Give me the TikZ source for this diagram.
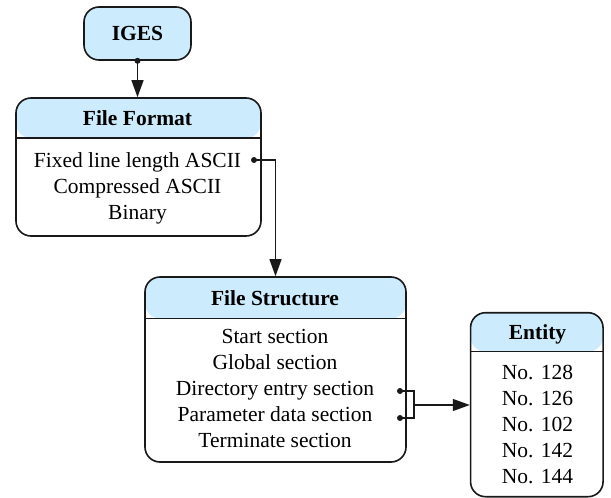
\documentclass[tikz,border=0pt]{standalone}
\usepackage{fontspec}
\setmainfont{Liberation Serif}
\newfontfamily\timesface{Liberation Serif}
\usetikzlibrary{arrows.meta}
\definecolor{hdrblue}{RGB}{204,235,252}
\definecolor{edge}{RGB}{25,25,25}
\begin{document}
\begin{tikzpicture}[x=1pt,y=-1pt,
  font=\timesface\fontsize{21.5}{26}\selectfont,
  frame/.style={draw=edge, line width=1.6pt, rounded corners=15pt, fill=white, inner sep=0pt},
  header/.style={path picture={
      \fill[hdrblue] (path picture bounding box.north west) rectangle ([yshift=-#1]path picture bounding box.north east);
      \draw[edge, line width=1.5pt] ([yshift=-#1]path picture bounding box.north west) -- ([yshift=-#1]path picture bounding box.north east);}},
  txt/.style={inner sep=0pt, anchor=base},
  ttl/.style={txt, font=\timesface\fontsize{21.5}{26}\selectfont\bfseries},
  link/.style={draw=edge, line width=1.2pt},
  arrow/.style={link, -{Triangle[length=17pt, width=12pt]}},
  dot/.style={fill=edge, circle, inner sep=0pt, minimum size=6pt}
]
\useasboundingbox (0,0) rectangle (611,498);

% boxes
\node[frame, fill=hdrblue, minimum width=107pt, minimum height=53pt] (iges) at (137.5,33.5) {};
\node[ttl] (igest) at (137.5,40) {IGES};

\node[frame, header=40pt, minimum width=245pt, minimum height=138pt] (ff) at (138.5,167) {};
\node[ttl] (fft) at (137.5,125) {File Format};
\node[txt] (ff1) at (137.5,167) {Fixed line length ASCII};
\node[txt] (ff2) at (137.5,193) {Compressed ASCII};
\node[txt] (ff3) at (137.5,219) {Binary};

\node[frame, header=41.5pt, minimum width=261pt, minimum height=185pt] (fs) at (275.5,369.5) {};
\node[ttl] (fst) at (275,305) {File Structure};
\node[txt] (fs1) at (275,343.5) {Start section};
\node[txt] (fs2) at (275,369.5) {Global section};
\node[txt] (fs3) at (275,395.5) {Directory entry section};
\node[txt] (fs4) at (275,421.5) {Parameter data section};
\node[txt] (fs5) at (275,447.5) {Terminate section};

\node[frame, header=39pt, minimum width=132.5pt, minimum height=184pt] (ent) at (536.8,404.7) {};
\node[ttl] (entt) at (537.5,339.3) {Entity};
\node[txt] (en1) at (537.5,379.3) {No. 128};
\node[txt] (en2) at (537.5,405.3) {No. 126};
\node[txt] (en3) at (537.5,431.3) {No. 102};
\node[txt] (en4) at (537.5,457.3) {No. 142};
\node[txt] (en5) at (537.5,483.3) {No. 144};

% connectors
\coordinate (dff) at (254,160);
\coordinate (dfs1) at (400,391);
\coordinate (dfs2) at (400,418);
\coordinate (br) at (414,405);

\draw[arrow] (iges.south) -- (iges.south |- ff.north);
\node[dot] at (iges.south) {};

\draw[arrow] (dff) -| (fs.north);
\node[dot] at (dff) {};

\draw[link] (dfs1) -| (br) |- (dfs2);
\draw[arrow] (br) -- (br -| ent.west);
\node[dot] at (dfs1) {};
\node[dot] at (dfs2) {};
\end{tikzpicture}
\end{document}
